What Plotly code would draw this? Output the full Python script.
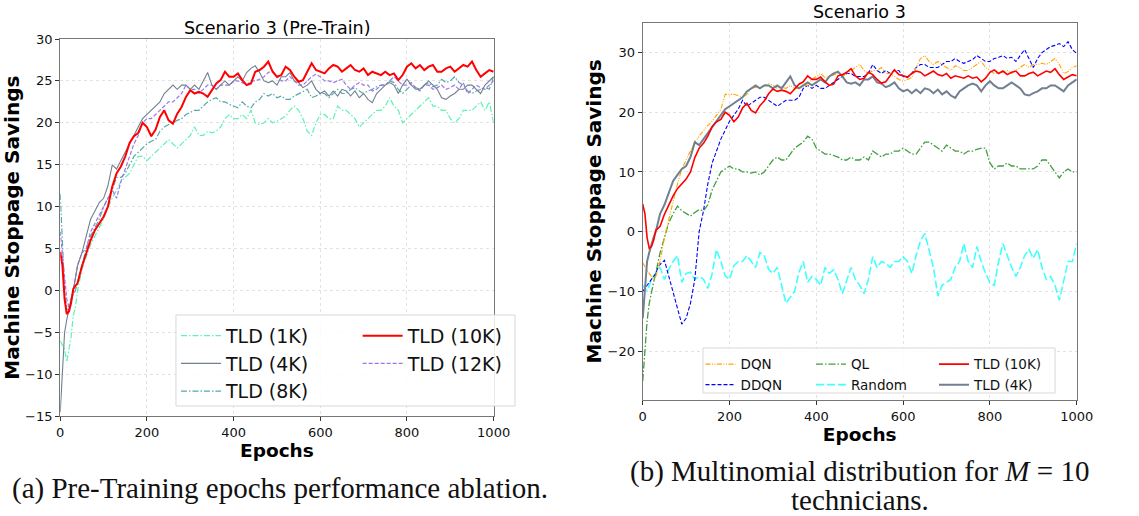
import plotly.graph_objects as go

# ---------------- data ----------------
EPOCHS = [0, 5, 10, 15, 20, 25, 30, 35] + list(range(40, 1001, 10))

TLD_1K = [-6, -6.5, -7, -8.5, -7, -5.5, -3, -2,
          0, 2.5, 4, 5.5, 6.5, 7.5,
          8.5, 10, 11, 12, 13, 13.5, 14, 15, 16, 16,
          15.5, 16, 16.5, 17, 17.5, 18, 17.5, 17, 17.5, 18,
          18.5, 19.5, 18.5, 18.5, 19, 18.8, 19, 19.5, 20.5, 21,
          20.5, 20.5, 21, 20.5, 21.5, 20, 19.8, 20, 20.5, 20,
          20.2, 20.5, 20.8, 21.5, 22, 21.5, 20.5, 19, 18.5, 20,
          21, 21, 20.5, 20.5, 22, 21.5, 21.5, 21, 20.5, 19.5,
          20, 20.5, 21, 21.5, 21.5, 22, 23, 22, 21.5, 20,
          20.5, 21, 21.5, 22, 22.5, 23, 22, 22, 21.5, 21.5,
          20.5, 20, 20.5, 21.5, 21.5, 21.5, 22, 22.5, 21.5, 22.5,
          20]

TLD_4K = [-14.5, -9, -5, -3.5, -2, -1, 0, 1.5,
          3, 4.5, 6.5, 8.5, 9.5, 10.5,
          11, 12.5, 15, 14.5, 15.5, 16.5, 17.5, 18.5, 19.5, 20.5,
          21, 21.5, 22, 22.5, 23.5, 24, 24.5, 24, 24.5, 24.5,
          24, 24.5, 24, 25, 26, 24.5, 24, 24.5, 25, 24.5,
          25, 25.5, 25, 26, 26.5, 26.8, 26, 25, 24.8, 25,
          24.5, 25.5, 25.5, 26, 25, 24.8, 24.2, 24.5, 25, 24,
          23.5, 23.8, 23.2, 23.8, 23.2, 24, 23.8, 23.2, 23.8, 23.0,
          23.5, 22.8, 22.4, 23.5, 24, 24.5, 24.8, 24.5, 23.5, 24.5,
          25.2, 24.5, 24, 24, 24.5, 25, 24.5, 24, 23, 22.8,
          23.2, 23.5, 24, 24, 24.5, 24.5, 24, 23.5, 24.5, 25,
          25.5]

TLD_8K = [11.5, 5, 0, -2, -2.5, -1, -0.5, 0,
          1, 3, 5, 6.5, 7.5, 8.5,
          10, 11, 12, 13.5, 13.5, 14, 15, 16, 16.5, 17,
          17.5, 17.8, 18, 19, 19.5, 19.8, 20, 20.3, 20.5, 21,
          21.3, 21.5, 21.5, 22, 22.5, 22.8, 23, 22.5, 22.5, 22.2,
          22, 21.8, 22.5, 22, 21.8, 22.5, 22.8, 23.5, 23.2, 23.5,
          23, 23.2, 22.8, 22.8, 23.2, 23.5, 23.8, 24, 23, 23.2,
          23.5, 23.5, 23, 23.5, 24, 23.5, 23.5, 24, 24.2, 23.8,
          23.5, 23.8, 24, 24.3, 24.5, 24.5, 25, 24.8, 24, 23.5,
          24, 24.5, 24.2, 24, 24.5, 24.8, 24.3, 24.5, 25.2, 24.8,
          25, 25.5, 24.8, 24.5, 23.8, 23.5, 23.8, 24, 24.2, 24,
          25.5]

TLD_10K = [4.6, 3.0, -1.0, -2.8, -2.5, -1.5, 0.2, 0.5,
           0.9, 2.9, 4.4, 6.0, 7.2, 8.0,
           8.8, 10.0, 12.4, 14.0, 14.8, 16.0, 17.6, 18.4, 18.8, 20.0,
           19.5, 18.4, 19.2, 20.7, 21.5, 20.3, 19.9, 21.1, 21.9, 23.1,
           23.9, 23.5, 23.7, 23.5, 23.1, 23.9, 24.7, 25.1, 26.1, 25.5,
           25.5, 25.9, 25.1, 24.5, 24.7, 26.1, 26.3, 26.7, 27.3, 26.1,
           25.5, 25.7, 26.7, 26.3, 25.5, 24.9, 25.1, 26.1, 27.1, 26.3,
           26.1, 25.9, 26.5, 26.9, 26.7, 26.1, 26.5, 26.9, 26.3, 26.1,
           26.5, 25.7, 26.1, 25.9, 25.7, 26.1, 25.7, 25.9, 25.1, 25.7,
           26.7, 27.1, 26.5, 26.9, 26.3, 26.7, 26.9, 26.1, 26.1, 26.5,
           26.7, 26.1, 26.5, 26.9, 26.7, 27.3, 26.3, 25.5, 25.9, 26.3,
           26.1]

TLD_12K = [7, 4, 1, -1, -2, -1.5, 0, 1.5,
           3, 4.5, 5, 7, 8, 9,
           10, 11, 12, 11, 13, 14.5, 16, 17.5, 18.5, 20,
           20.5, 20.5, 21, 21.5, 22, 22.5, 22.5, 23, 23.5, 24.5,
           24, 24, 23.5, 24, 24.5, 24.5, 24, 24.5, 24.5, 24.5,
           25, 25, 24.8, 24.5, 25, 25, 25.2, 25.5, 26, 26.2,
           25.5, 25, 25, 25.5, 25, 24.5, 24.5, 25, 25.5, 25.8,
           25.5, 25, 25, 24.8, 25, 25.2, 24.5, 24, 24.5, 24.8,
           24.5, 24.5, 23.8, 24, 24.5, 24.5, 25, 25.5, 25, 24.5,
           24.5, 24.8, 24.2, 23.8, 24.5, 24.5, 24, 24.2, 24.5, 24,
           24.2, 24.5, 24, 24.8, 23.5, 24, 24.5, 24.2, 24, 24.5,
           25]

DQN = [-5.2, -6, -6.5, -7, -7.5, -8, -7.5, -6,
       -5, -1, 2, 5.5, 8, 10.5,
       12, 13.5, 15, 16, 17, 17.8, 18.5, 19.5, 20.5, 23,
       23, 23, 22.8, 22.5, 23, 24, 24.2, 24, 24.5, 24.8,
       24.5, 24, 24.2, 24, 24.5, 24, 24, 24.5, 24.5, 25.5,
       26, 26.5, 25.8, 26, 26.2, 26.5, 26, 26.5, 27, 27.5,
       28, 27, 26.5, 27, 27, 27.5, 26.5, 26.5, 26, 25.5,
       25.2, 25.5, 25.8, 27.5, 29, 29.5, 28.5, 28, 28.5, 28,
       27.5, 27, 27.8, 27.5, 27, 27, 27.5, 28, 28.5, 27.5,
       27, 26.5, 26.5, 26.8, 27, 26.5, 27, 27.5, 28, 27.5,
       28, 28, 28.2, 28, 28.5, 29, 28, 26.5, 26.8, 27.5,
       27.8]

DDQN = [-10, -9.5, -9, -8.5, -8, -7.5, -7, -6,
        -5.5, -4.8, -7.5, -10, -13, -15.5,
        -14.5, -12, -8, 0, 3.5, 8, 11.5, 13.5, 15.5, 17,
        18.5, 19.5, 20.5, 22, 21, 21.5, 22, 22.5, 22.5, 22,
        21.5, 21, 21.5, 22, 22, 22, 22.5, 24, 24.5, 24,
        24.5, 24, 24, 24.5, 25, 25.5, 26, 26.5, 26.5, 26,
        26, 26, 26.5, 28, 27, 26.5, 27, 26.5, 27, 27,
        26, 25.8, 26.5, 27.5, 28, 28, 27.5, 27.5, 27.5, 28,
        28.5, 28.5, 29, 28.5, 28.2, 28.5, 28.8, 29.5, 29, 28.5,
        28.5, 29, 29.2, 29.5, 29, 29.2, 28.5, 29.5, 30.5, 29,
        27.5, 29, 30, 30.5, 31, 31.2, 31.5, 31, 31.8, 30.5,
        29.8]

QL = [-25, -20, -15, -12, -10, -8.5, -7, -5,
      -3.5, -1, 1.5, 3, 4.3, 3.5,
      3, 2.6, 3.2, 3.7, 3.5, 4.5, 7, 8.5, 10, 10.5,
      11, 10.5, 10.5, 10, 10, 9.8, 10, 9.5, 10, 11,
      12, 12.5, 12, 12, 13, 14, 14.5, 15, 16, 15.5,
      14, 13.5, 13, 13, 12.8, 12.5, 12, 12, 12.5, 12,
      12, 12.5, 12, 13.5, 13, 12.5, 13, 13, 13.5, 13.5,
      14, 13.5, 13, 13, 14, 15, 15, 14.5, 14, 13.5,
      14.5, 14, 13.5, 13.5, 13, 13.5, 13.5, 13.8, 14, 14,
      11.5, 10.5, 11, 11, 11.5, 11, 11, 10.5, 10.5, 10.5,
      10.5, 11, 12, 12, 11, 10, 9, 10, 10.5, 10,
      10]

RANDOM = [-9, -9.5, -10, -9, -8, -7.5, -7, -6.5,
          -6, -8, -6.3, -5, -4, -8.5,
          -7, -6.8, -8, -7.5, -8, -9.5, -7, -3, -5, -7.4,
          -8, -5.7, -5, -5, -4, -5, -6, -3.5, -4, -6.3,
          -7, -6, -9, -12, -11, -10, -6.8, -5, -8.5, -7.5,
          -8, -9, -6, -7, -6.4, -8, -10.4, -8, -6, -8,
          -9, -10.4, -8, -4.2, -6, -5, -5.3, -6, -5, -5,
          -4.2, -5, -7, -4, -1.5, -0.3, -3, -6, -10.8, -9,
          -8.5, -8, -6, -5, -2, -5, -6, -2.5, -5, -7,
          -8.5, -9, -5, -2, -4, -6, -7.5, -6, -4, -3,
          -4.5, -3, -6, -8, -7.5, -9, -11.5, -8, -5, -5,
          -2]

X_TICKS = [0, 200, 400, 600, 800, 1000]
Y1_TICKS = [-15, -10, -5, 0, 5, 10, 15, 20, 25, 30]
Y2_TICKS = [-20, -10, 0, 10, 20, 30]

# ---------------- figure ----------------
fig = go.Figure()

# (name, values, colour, width, dash, legend, rank)
left_series = [
    ("TLD (1K)", TLD_1K, "#5ef2b4", 1.2, "6px,2px,1.5px,2px", "legend", 1),
    ("TLD (8K)", TLD_8K, "#56a8a8", 1.2, "6px,2px,1.5px,2px", "legend", 3),
    ("TLD (12K)", TLD_12K, "#a074ea", 1.2, "4px,2px", "legend2", 5),
    ("TLD (4K)", TLD_4K, "#708090", 1.1, "solid", "legend", 2),
    ("TLD (10K)", TLD_10K, "#ff0000", 2.0, "solid", "legend2", 4),
]
for name, vals, col, w, dash, lg, rk in left_series:
    fig.add_trace(go.Scatter(x=EPOCHS, y=vals, mode="lines", name=name,
                             line=dict(color=col, width=w, dash=dash),
                             xaxis="x", yaxis="y", legend=lg, legendrank=rk))

right_series = [
    ("Random", RANDOM, "rgba(0,255,255,0.75)", 1.6, "8px,3px", "legend4", 4),
    ("QL", QL, "#3f9e3f", 1.3, "7px,2px,1.5px,2px", "legend4", 3),
    ("DDQN", DDQN, "#0000ff", 1.1, "4px,2px", "legend3", 2),
    ("DQN", DQN, "#ffa500", 1.1, "5px,1.5px,1px,1.5px,1px,1.5px", "legend3", 1),
    ("TLD (4K)", TLD_4K, "#708090", 2.0, "solid", "legend5", 6),
    ("TLD (10K)", TLD_10K, "#ff0000", 1.6, "solid", "legend5", 5),
]
for name, vals, col, w, dash, lg, rk in right_series:
    fig.add_trace(go.Scatter(x=EPOCHS, y=vals, mode="lines", name=name,
                             line=dict(color=col, width=w, dash=dash),
                             xaxis="x2", yaxis="y2", legend=lg, legendrank=rk))

axis_common = dict(showline=True, linecolor="#777777", linewidth=1.3, mirror=True,
                   ticks="outside", ticklen=4, tickcolor="#333", automargin=False,
                   showgrid=True, gridcolor="#e2e2e2", griddash="dot", gridwidth=1,
                   zeroline=False,
                   tickfont=dict(family="DejaVu Sans", size=13, color="#111"))
xtitle_font = dict(family="DejaVu Sans", size=18.5, color="#000", weight="bold")
ytitle_font = dict(family="DejaVu Sans", size=20, color="#000", weight="bold")

fig.update_layout(
    width=1139, height=516,
    margin=dict(l=0, r=0, t=0, b=0),
    paper_bgcolor="white", plot_bgcolor="white",
    xaxis=dict(domain=[0.0529, 0.4334], range=[0, 1000], tickvals=X_TICKS,
               title=dict(text="Epochs", font=xtitle_font, standoff=0), **axis_common),
    yaxis=dict(domain=[0.1932, 0.9244], range=[-15, 30], tickvals=Y1_TICKS,
               title=dict(text="Machine Stoppage Savings", font=ytitle_font, standoff=0),
               **axis_common),
    xaxis2=dict(domain=[0.5643, 0.9453], range=[0, 1000], tickvals=X_TICKS, anchor="y2",
                title=dict(text="Epochs", font=xtitle_font, standoff=0), **axis_common),
    yaxis2=dict(domain=[0.2248, 0.956], range=[-28.2, 35], tickvals=Y2_TICKS, anchor="x2",
                title=dict(text="Machine Stoppage Savings", font=ytitle_font, standoff=0),
                **axis_common),
    showlegend=True,
)

lg_left = dict(bgcolor="rgba(0,0,0,0)", borderwidth=0, traceorder="normal",
               font=dict(family="DejaVu Sans", size=19, color="#111"),
               tracegroupgap=0, xanchor="left", yanchor="top", itemwidth=40)
lg_right = dict(bgcolor="rgba(0,0,0,0)", borderwidth=0, traceorder="normal",
                font=dict(family="DejaVu Sans", size=13.5, color="#111"),
                tracegroupgap=0, xanchor="left", yanchor="top", itemwidth=30)
fig.update_layout(
    legend=dict(x=0.1545, y=0.386, **lg_left),
    legend2=dict(x=0.314, y=0.386, **lg_left),
    legend3=dict(x=0.615, y=0.324, **lg_right),
    legend4=dict(x=0.712, y=0.324, **lg_right),
    legend5=dict(x=0.820, y=0.324, **lg_right),
)

# legend frames
fig.add_shape(type="rect", xref="paper", yref="paper", x0=0.1545, x1=0.4522, y0=0.2132, y1=0.3895,
              line=dict(color="#d8d8d8", width=1), fillcolor="rgba(255,255,255,0.85)", layer="above")
fig.add_shape(type="rect", xref="paper", yref="paper", x0=0.6172, x1=0.9263, y0=0.2384, y1=0.3256,
              line=dict(color="#d8d8d8", width=1), fillcolor="rgba(255,255,255,0.85)", layer="above")

# titles
fig.add_annotation(text="Scenario 3 (Pre-Train)", xref="paper", yref="paper", x=0.2432, y=0.9457,
                   showarrow=False, xanchor="center", yanchor="middle",
                   font=dict(family="DejaVu Sans", size=17.5, color="#000"))
fig.add_annotation(text="Scenario 3", xref="paper", yref="paper", x=0.7542, y=0.9767,
                   showarrow=False, xanchor="center", yanchor="middle",
                   font=dict(family="DejaVu Sans", size=17.5, color="#000"))

# captions
cap_font = dict(family="Liberation Serif", size=29, color="#111")
fig.add_annotation(text="(a) Pre-Training epochs performance ablation.", xref="paper", yref="paper",
                   x=0.2458, y=1 - 488 / 516, showarrow=False, xanchor="center", yanchor="middle",
                   font=cap_font)
fig.add_annotation(text="(b) Multinomial distribution for <i>M</i> = 10", xref="paper", yref="paper",
                   x=0.755, y=1 - 471 / 516, showarrow=False, xanchor="center", yanchor="middle",
                   font=cap_font)
fig.add_annotation(text="technicians.", xref="paper", yref="paper",
                   x=0.755, y=1 - 500 / 516, showarrow=False, xanchor="center", yanchor="middle",
                   font=cap_font)

fig.write_html("out.html")
